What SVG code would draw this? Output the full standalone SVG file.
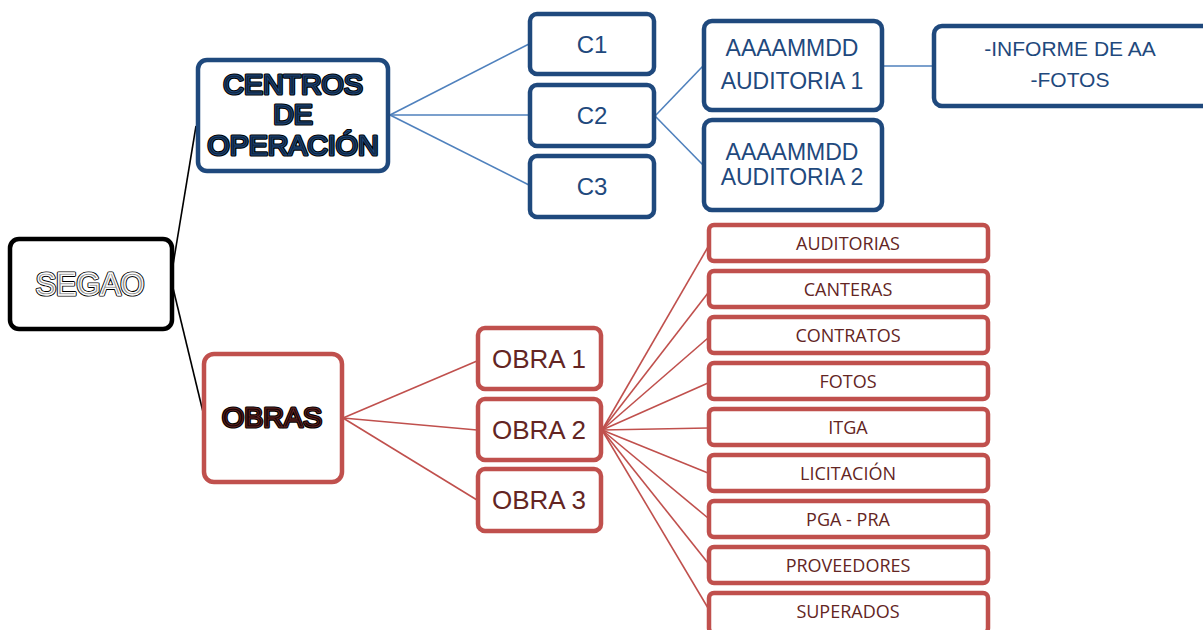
<svg xmlns="http://www.w3.org/2000/svg" width="1203" height="630" viewBox="0 0 1203 630">
<style>
.bk{fill:#fff;stroke:#000;stroke-width:4.5}
.bl{fill:#fff;stroke:#1f497d;stroke-width:4.5}
.rd{fill:#fff;stroke:#c0504d;stroke-width:4.5}
.cb{stroke:#4f81bd;stroke-width:1.6;fill:none}
.cr{stroke:#c0504d;stroke-width:1.6;fill:none}
.ck{stroke:#000;stroke-width:1.6;fill:none}
.tb{font-family:"Liberation Sans",Arial,sans-serif;fill:#1f497d;text-anchor:middle}
.tr{font-family:"Liberation Sans",Arial,sans-serif;fill:#632523;text-anchor:middle}
.tl{font-family:"Open Sans","Noto Sans",sans-serif;fill:#632523;text-anchor:middle;font-size:18px}
.big{font-family:"Liberation Sans",Arial,sans-serif;text-anchor:middle;font-size:28.5px}
.ol{fill:#000;stroke:#000;stroke-width:3.2;stroke-linejoin:round}
</style>
<g id="connectors">
<line class="ck" x1="173" y1="265" x2="196" y2="126"/>
<line class="ck" x1="173" y1="288" x2="203" y2="412"/>
<line class="cb" x1="390" y1="115" x2="529" y2="44"/>
<line class="cb" x1="390" y1="115" x2="529" y2="115"/>
<line class="cb" x1="390" y1="115" x2="529" y2="185"/>
<line class="cb" x1="655" y1="116" x2="703" y2="66"/>
<line class="cb" x1="655" y1="116" x2="703" y2="165"/>
<line class="cb" x1="883" y1="66" x2="933" y2="66"/>
<line class="cr" x1="343" y1="418" x2="477" y2="361"/>
<line class="cr" x1="343" y1="418" x2="477" y2="430"/>
<line class="cr" x1="343" y1="418" x2="477" y2="500"/>
<line class="cr" x1="602" y1="430" x2="708" y2="247"/>
<line class="cr" x1="602" y1="430" x2="708" y2="293"/>
<line class="cr" x1="602" y1="430" x2="708" y2="338"/>
<line class="cr" x1="602" y1="430" x2="708" y2="383"/>
<line class="cr" x1="602" y1="430" x2="708" y2="428"/>
<line class="cr" x1="602" y1="430" x2="708" y2="473"/>
<line class="cr" x1="602" y1="430" x2="708" y2="518"/>
<line class="cr" x1="602" y1="430" x2="708" y2="563"/>
<line class="cr" x1="602" y1="430" x2="708" y2="608"/>
</g>
<g id="segao">
<rect class="bk" x="10" y="239" width="162" height="90" rx="9"/>
<text class="big ol" x="90" y="295" style="font-size:30.5px">SEGAO</text>
<text class="big" x="90" y="295" style="font-size:30.5px;fill:#8c8c8c;stroke:#fff;stroke-width:1.3">SEGAO</text>
</g>
<g id="centros">
<rect class="bl" x="198" y="60" width="190" height="111" rx="9"/>
<text class="big ol" x="293" y="94">CENTROS</text>
<text class="big ol" x="293" y="124">DE</text>
<text class="big ol" x="293" y="155">OPERACIÓN</text>
<g style="fill:#0f243e;stroke:#1f497d;stroke-width:0.9">
<text class="big" x="293" y="94">CENTROS</text>
<text class="big" x="293" y="124">DE</text>
<text class="big" x="293" y="155">OPERACIÓN</text>
</g>
</g>
<g id="c1"><rect class="bl" x="530" y="14" width="124" height="60" rx="7"/><text class="tb" x="592" y="53" font-size="24">C1</text></g>
<g id="c2"><rect class="bl" x="530" y="85" width="124" height="61" rx="7"/><text class="tb" x="592" y="124" font-size="24">C2</text></g>
<g id="c3"><rect class="bl" x="530" y="156" width="124" height="61" rx="7"/><text class="tb" x="592" y="195" font-size="24">C3</text></g>
<g id="aud1"><rect class="bl" x="704" y="21" width="178" height="89" rx="8"/>
<text class="tb" x="792" y="56" font-size="23">AAAAMMDD</text>
<text class="tb" x="792" y="89" font-size="23">AUDITORIA 1</text></g>
<g id="aud2"><rect class="bl" x="704" y="120" width="178" height="90" rx="8"/>
<text class="tb" x="792" y="160" font-size="23">AAAAMMDD</text>
<text class="tb" x="792" y="185" font-size="23">AUDITORIA 2</text></g>
<g id="informe"><rect class="bl" x="934" y="26" width="290" height="80" rx="8"/>
<text class="tb" x="1070" y="56" font-size="21">-INFORME DE AA</text>
<text class="tb" x="1070" y="87" font-size="21">-FOTOS</text></g>
<g id="obras">
<rect class="rd" x="204" y="354" width="138" height="128" rx="10"/>
<text class="big ol" x="272" y="427">OBRAS</text>
<text class="big" x="272" y="427" style="fill:#1a0505;stroke:#632523;stroke-width:0.9">OBRAS</text>
</g>
<g id="obra1"><rect class="rd" x="478" y="328" width="123" height="61" rx="7"/><text class="tr" x="539" y="368" font-size="26">OBRA 1</text></g>
<g id="obra2"><rect class="rd" x="478" y="399" width="123" height="61" rx="7"/><text class="tr" x="539" y="439" font-size="26">OBRA 2</text></g>
<g id="obra3"><rect class="rd" x="478" y="469" width="123" height="62" rx="7"/><text class="tr" x="539" y="509" font-size="26">OBRA 3</text></g>
<g id="l1"><rect class="rd" x="709" y="225" width="279" height="36" rx="5"/><text class="tl" x="848" y="249.5">AUDITORIAS</text></g>
<g id="l2"><rect class="rd" x="709" y="271" width="279" height="36" rx="5"/><text class="tl" x="848" y="295.5">CANTERAS</text></g>
<g id="l3"><rect class="rd" x="709" y="317" width="279" height="36" rx="5"/><text class="tl" x="848" y="341.5">CONTRATOS</text></g>
<g id="l4"><rect class="rd" x="709" y="363" width="279" height="36" rx="5"/><text class="tl" x="848" y="387.5">FOTOS</text></g>
<g id="l5"><rect class="rd" x="709" y="409" width="279" height="36" rx="5"/><text class="tl" x="848" y="433.5">ITGA</text></g>
<g id="l6"><rect class="rd" x="709" y="455" width="279" height="36" rx="5"/><text class="tl" x="848" y="479.5">LICITACIÓN</text></g>
<g id="l7"><rect class="rd" x="709" y="501" width="279" height="36" rx="5"/><text class="tl" x="848" y="525.5">PGA - PRA</text></g>
<g id="l8"><rect class="rd" x="709" y="547" width="279" height="36" rx="5"/><text class="tl" x="848" y="571.5">PROVEEDORES</text></g>
<g id="l9"><rect class="rd" x="709" y="593" width="279" height="40" rx="5"/><text class="tl" x="848" y="617.5">SUPERADOS</text></g>
</svg>
